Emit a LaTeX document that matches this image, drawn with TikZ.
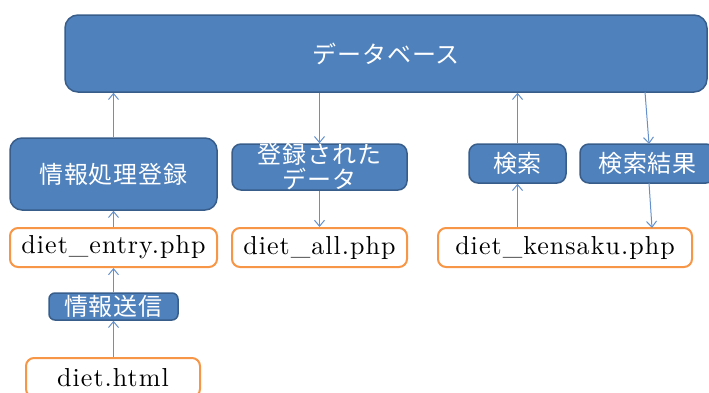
\documentclass[tikz,border=0pt]{standalone}
\usepackage{fontspec}
\newfontfamily\jp[LetterSpace=4]{Noto Sans CJK JP}
\newfontfamily\lat{lmroman10-regular.otf}[LetterSpace=4]
\usetikzlibrary{arrows.meta,calc}
\definecolor{boxfill}{RGB}{79,129,189}
\definecolor{boxline}{RGB}{56,93,138}
\definecolor{orangeline}{RGB}{247,150,70}
\definecolor{conn}{RGB}{100,145,205}
\tikzset{
  bluebox/.style={draw=boxline, fill=boxfill, line width=1.5pt, rounded corners=9pt,
    inner sep=0pt, text=white, font=\jp\fontsize{24}{25}\selectfont, align=center},
  filebox/.style={draw=orangeline, fill=white, line width=2pt, rounded corners=8pt,
    inner sep=0pt, font=\lat\fontsize{26}{30}\selectfont},
  conn/.style={draw=conn, line width=1pt, -{Straight Barb[length=6pt,width=10pt]}}
}
\begin{document}
\begin{tikzpicture}[x=1pt,y=-1pt]
\useasboundingbox (0,0) rectangle (709,392);
\node[bluebox, rounded corners=13pt, minimum width=642pt, minimum height=77pt] (db) at (386,53.5) {データベース};
\node[bluebox, rounded corners=12pt, minimum width=207pt, minimum height=72pt] (proc) at (113.5,174) {情報処理登録};
\node[bluebox, minimum width=175pt, minimum height=46pt] (reg) at (319.5,167) {};
\node[text=white, font=\jp\fontsize{24}{25}\selectfont, align=center, inner sep=0pt] (regtext) at (319.5,167) {登録された\\データ};
\node[bluebox, minimum width=97pt, minimum height=39pt] (search) at (517.5,163.5) {検索};
\node[bluebox, minimum width=135pt, minimum height=39pt] (result) at (647.5,163.5) {検索結果};
\node[filebox, minimum width=207pt, minimum height=39pt] (entry) at (113.5,247.5) {diet\_entry.php};
\node[filebox, minimum width=175pt, minimum height=39pt] (all) at (319.5,247.5) {diet\_all.php};
\node[filebox, minimum width=254pt, minimum height=39pt] (kensaku) at (565,247.5) {diet\_kensaku.php};
\node[bluebox, rounded corners=6pt, minimum width=129pt, minimum height=27pt] (send) at (113.5,306.5) {情報送信};
\node[filebox, minimum width=174pt, minimum height=39pt] (html) at (113,377.5) {diet.html};
\coordinate (r1) at (645,92);
\coordinate (r2) at (649,144);
\coordinate (r3) at (649,183);
\coordinate (r4) at (652,228);
\draw[conn] (proc.north) -- (proc.north |- db.south);
\draw[conn] (reg.north |- db.south) -- (reg.north);
\draw[conn] (reg.south) -- (all.north);
\draw[conn] (entry.north) -- (proc.south);
\draw[conn] (send.north) -- (entry.south);
\draw[conn] (html.north -| send.south) -- (send.south);
\draw[conn] (search.south |- kensaku.north) -- (search.south);
\draw[conn] (search.north) -- (search.north |- db.south);
\draw[conn] (r1) -- (r2);
\draw[conn] (r3) -- (r4);
\end{tikzpicture}
\end{document}
